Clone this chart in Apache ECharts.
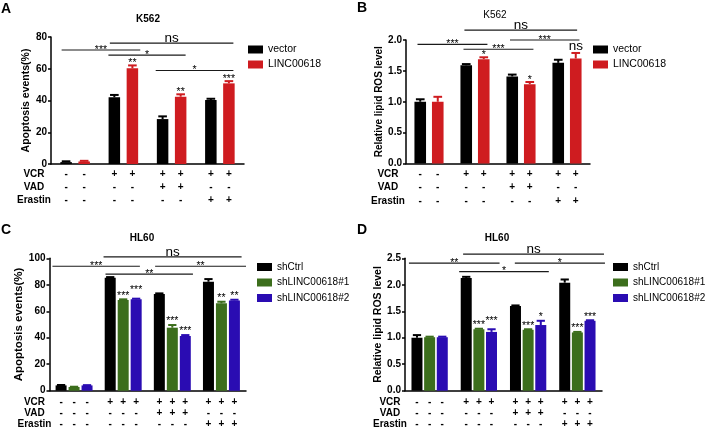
<!DOCTYPE html>
<html lang="en">
<head>
<meta charset="UTF-8">
<title>K562 / HL60</title>
<script src="https://cdn.jsdelivr.net/npm/echarts@6/dist/echarts.min.js"></script>
<style>
    html, body { margin: 0; padding: 0; background: #fff; }
    #chart { width: 710px; height: 430px; }
</style>
</head>
<body>
<div id="chart"></div>
<script>
// ---- data ----
var groups = ['g1', 'g2', 'g3', 'g4'];
var rowNames = ['VCR', 'VAD', 'Erastin'];
var vcrRow = ['-', '+', '+', '+'];
var vadRow = ['-', '-', '+', '-'];
var erastinRow = ['-', '-', '-', '+'];

// A - K562 apoptosis
var aVector = [1.2, 42, 28.3, 40.3];
var aVectorErr = [0.5, 1.5, 1.7, 0.8];
var aLinc = [1.6, 60.3, 42.4, 50.8];
var aLincErr = [0.4, 1.8, 1.5, 1.4];
var aLincStars = ['', '**', '**', '***'];
// brackets: start / end in group units, height, label
var aSigFrom = [0.72, -0.28, 0.69, 1.67];
var aSigTo = [3.28, 1.35, 2.29, 3.28];
var aSigY = [76.2, 71.8, 68.6, 58.9];
var aSigText = ['ns', '***', '*', '*'];

// B - K562 lipid ROS
var bVector = [1.0, 1.59, 1.41, 1.63];
var bVectorErr = [0.04, 0.02, 0.03, 0.05];
var bLinc = [1.0, 1.69, 1.285, 1.70];
var bLincErr = [0.08, 0.03, 0.035, 0.09];
var bLincStars = ['', '*', '*', 'ns'];
var bSigFrom = [0.77, -0.25, 0.75, 1.76];
var bSigTo = [3.22, 1.27, 2.27, 3.27];
var bSigY = [2.16, 1.93, 1.85, 2.0];
var bSigText = ['ns', '***', '***', '***'];

// C - HL60 apoptosis
var cCtrl = [4, 85.3, 73, 82.3];
var cCtrlErr = [0.3, 0.5, 0.5, 2.0];
var cSh1 = [2.8, 68.5, 47.6, 66];
var cSh1Err = [0.2, 0.5, 2.0, 1.2];
var cSh2 = [4, 69, 41.3, 68.2];
var cSh2Err = [0.2, 0.5, 0.7, 0.5];
var cSh1Stars = ['', '***', '***', '**'];
var cSh2Stars = ['', '***', '***', '**'];
var cSigFrom = [0.6, -0.44, 1.65, 0.64];
var cSigTo = [3.41, 1.34, 3.5, 2.42];
var cSigY = [101.1, 94, 94, 88.1];
var cSigText = ['ns', '***', '**', '**'];

// D - HL60 lipid ROS
var dCtrl = [1.0, 2.13, 1.60, 2.04];
var dCtrlErr = [0.05, 0.02, 0.01, 0.06];
var dSh1 = [1.01, 1.16, 1.15, 1.10];
var dSh1Err = [0.01, 0.01, 0.01, 0.01];
var dSh2 = [1.01, 1.11, 1.24, 1.32];
var dSh2Err = [0.01, 0.05, 0.08, 0.01];
var dSh1Stars = ['', '***', '***', '***'];
var dSh2Stars = ['', '***', '*', '***'];
var dSigFrom = [0.68, -0.42, 1.73, 0.6];
var dSigTo = [3.54, 1.42, 3.56, 2.42];
var dSigY = [2.58, 2.41, 2.41, 2.25];
var dSigText = ['ns', '**', '*', '*'];

var FONT = '"Liberation Sans", Arial, sans-serif';
var BLACK = '#000000', RED = '#cf1c20', GREEN = '#3c6e1c', BLUE = '#2a0cb2';

var option = {
    animation: false,
    textStyle: {fontFamily: FONT},
    grid: [], xAxis: [], yAxis: [], series: [], legend: [], graphic: []
};

function addPanel(p) {
    var i = option.grid.length;
    var n = p.series.length;
    var gap = parseFloat(p.barGap) / 100;
    var step = p.barW * (1 + gap);
    var rows = [vcrRow, vadRow, erastinRow];

    option.grid.push({left: p.left, top: p.top, width: p.width, height: p.height});
    option.xAxis.push({
        type: 'category', gridIndex: i, data: groups,
        axisLine: {lineStyle: {color: '#000', width: 1.5}},
        axisTick: {alignWithLabel: true, length: 3, lineStyle: {color: '#000', width: 1.5}},
        axisLabel: {show: false}
    });
    option.yAxis.push({
        type: 'value', gridIndex: i, min: 0, max: p.max, interval: p.interval,
        name: p.yName, nameLocation: 'middle', nameGap: p.nameGap,
        nameTextStyle: {fontWeight: 'bold', fontSize: p.nameSize, color: '#000', fontFamily: FONT},
        axisLine: {show: true, lineStyle: {color: '#000', width: 1.5}},
        axisTick: {show: true, length: 3, lineStyle: {color: '#000', width: 1.5}},
        axisLabel: {
            color: '#000', fontWeight: 'bold', fontSize: 10, margin: 4, fontFamily: FONT,
            formatter: function (v) { return p.decimals ? v.toFixed(p.decimals) : v; }
        },
        splitLine: {show: false}
    });

    // bars
    p.series.forEach(function (s) {
        option.series.push({
            type: 'bar', name: s.name, xAxisIndex: i, yAxisIndex: i,
            data: s.values, barWidth: p.barW, barGap: p.barGap,
            itemStyle: {color: s.color}
        });
    });

    // error bars + stars over each bar
    p.series.forEach(function (s, k) {
        var off = (k - (n - 1) / 2) * step;
        var lift = (p.lift && p.lift[k]) || [0, 0, 0, 0];
        option.series.push({
            type: 'custom', xAxisIndex: i, yAxisIndex: i, silent: true, z: 3,
            data: s.values.map(function (v, j) { return [j, v, s.err[j]]; }),
            renderItem: function (params, api) {
                var base = api.coord([api.value(0), api.value(1)]);
                var top = api.coord([api.value(0), api.value(1) + api.value(2)]);
                var x = base[0] + off;
                var cap = p.barW * 0.75;
                var kids = [
                    {type: 'line', shape: {x1: x, y1: base[1], x2: x, y2: top[1]},
                        style: {stroke: s.color, lineWidth: 2}},
                    {type: 'line', shape: {x1: x - cap / 2, y1: top[1], x2: x + cap / 2, y2: top[1]},
                        style: {stroke: s.color, lineWidth: 2}}
                ];
                var lab = s.stars ? s.stars[params.dataIndex] : '';
                if (lab) {
                    var isNs = lab === 'ns';
                    kids.push({
                        type: 'text', x: x, y: top[1] - (isNs ? 7 : p.starUp) - lift[params.dataIndex],
                        style: {
                            text: lab, fill: '#000', align: 'center', verticalAlign: 'middle',
                            font: (isNs ? '13.5px ' : '10.5px ') + FONT
                        }
                    });
                }
                return {type: 'group', children: kids};
            }
        });
    });

    // significance brackets
    option.series.push({
        type: 'custom', xAxisIndex: i, yAxisIndex: i, silent: true, z: 4,
        data: p.sigY.map(function (y) { return [0, y]; }),
        renderItem: function (params, api) {
            var k = params.dataIndex;
            var c0 = api.coord([0, api.value(1)]);
            var band = api.size([1, 0])[0];
            var x1 = c0[0] + p.sigFrom[k] * band;
            var x2 = c0[0] + p.sigTo[k] * band;
            var y = c0[1];
            var lab = p.sigText[k];
            var isNs = lab === 'ns';
            return {type: 'group', children: [
                {type: 'line', shape: {x1: x1, y1: y, x2: x2, y2: y},
                    style: {stroke: '#1a1a1a', lineWidth: 1.2}},
                {type: 'text', x: (x1 + x2) / 2, y: y - (isNs ? 5 : 0),
                    style: {text: lab, fill: '#000', align: 'center', verticalAlign: 'middle',
                        font: (isNs ? '13.5px ' : '10.5px ') + FONT}}
            ]};
        }
    });

    // treatment table under the axis
    option.series.push({
        type: 'custom', xAxisIndex: i, yAxisIndex: i, silent: true,
        data: groups.map(function (g, j) { return [j, 0]; }),
        renderItem: function (params, api) {
            var j = params.dataIndex;
            var c = api.coord([j, 0]);
            var band = api.size([1, 0])[0];
            var kids = [];
            rows.forEach(function (row, r) {
                for (var k = 0; k < n; k++) {
                    kids.push({type: 'text', x: c[0] + (k - (n - 1) / 2) * step, y: c[1] + p.rowY[r],
                        style: {text: row[j], fill: '#000', align: 'center', verticalAlign: 'middle',
                            font: 'bold 10px ' + FONT}});
                }
                if (j === 0) {
                    kids.push({type: 'text', x: c[0] - band / 2 - p.labelDx, y: c[1] + p.rowY[r],
                        style: {text: rowNames[r], fill: '#000', align: 'center', verticalAlign: 'middle',
                            font: 'bold 10px ' + FONT}});
                }
            });
            return {type: 'group', children: kids};
        }
    });

    option.legend.push({
        orient: 'vertical', left: p.legendLeft, top: p.legendTop, icon: 'rect',
        itemWidth: 15, itemHeight: 8, itemGap: p.legendGap, selectedMode: false,
        data: p.series.map(function (s) { return s.name; }),
        textStyle: {color: '#000', fontSize: p.legendSize, fontFamily: FONT}
    });

    option.graphic.push(
        {type: 'text', x: p.letterX, y: p.letterY,
            style: {text: p.letter, fill: '#000', font: 'bold 14px ' + FONT, verticalAlign: 'middle'}},
        {type: 'text', x: p.titleX, y: p.titleY,
            style: {text: p.title, fill: '#000', align: 'center', verticalAlign: 'middle',
                font: (p.titleBold ? 'bold ' : '') + '10px ' + FONT}}
    );
}

addPanel({
    letter: 'A', letterX: 1, letterY: 9, title: 'K562', titleX: 148, titleY: 19, titleBold: true,
    left: 51, top: 37, width: 193, height: 127, max: 80, interval: 20, decimals: 0,
    yName: 'Apoptosis events(%)', nameGap: 16, nameSize: 10.5,
    barW: 11.5, barGap: '57%', rowY: [10, 23.3, 36.7], labelDx: 17, starUp: 2,
    legendLeft: 243, legendTop: 39, legendGap: 4, legendSize: 10.5,
    sigFrom: aSigFrom, sigTo: aSigTo, sigY: aSigY, sigText: aSigText,
    series: [
        {name: 'vector', values: aVector, err: aVectorErr, color: BLACK},
        {name: 'LINC00618', values: aLinc, err: aLincErr, color: RED, stars: aLincStars}
    ]
});

addPanel({
    letter: 'B', letterX: 357, letterY: 8, title: 'K562', titleX: 495, titleY: 15, titleBold: false,
    left: 406, top: 40, width: 184, height: 123.5, max: 2, interval: 0.5, decimals: 1,
    yName: 'Relative lipid ROS level', nameGap: 20, nameSize: 10,
    barW: 11.6, barGap: '51%', rowY: [10.5, 24, 37.5], labelDx: 18, starUp: 2,
    legendLeft: 588, legendTop: 39, legendGap: 4, legendSize: 10.5,
    sigFrom: bSigFrom, sigTo: bSigTo, sigY: bSigY, sigText: bSigText,
    series: [
        {name: 'vector', values: bVector, err: bVectorErr, color: BLACK},
        {name: 'LINC00618', values: bLinc, err: bLincErr, color: RED, stars: bLincStars}
    ]
});

addPanel({
    letter: 'C', letterX: 1, letterY: 230.5, title: 'HL60', titleX: 142, titleY: 238, titleBold: true,
    left: 49.5, top: 258.3, width: 196.5, height: 132.4, max: 100, interval: 20, decimals: 0,
    yName: 'Apoptosis events(%)', nameGap: 24, nameSize: 11.5,
    barW: 11, barGap: '18%', rowY: [11.5, 23, 34], labelDx: 15, starUp: 3.5,
    lift: [null, [0, 0, 0, 0], [0, 5, 0, 0]],
    legendLeft: 252, legendTop: 257, legendGap: 5.5, legendSize: 10,
    sigFrom: cSigFrom, sigTo: cSigTo, sigY: cSigY, sigText: cSigText,
    series: [
        {name: 'shCtrl', values: cCtrl, err: cCtrlErr, color: BLACK},
        {name: 'shLINC00618#1', values: cSh1, err: cSh1Err, color: GREEN, stars: cSh1Stars},
        {name: 'shLINC00618#2', values: cSh2, err: cSh2Err, color: BLUE, stars: cSh2Stars}
    ]
});

addPanel({
    letter: 'D', letterX: 357, letterY: 230.5, title: 'HL60', titleX: 497, titleY: 238, titleBold: true,
    left: 405, top: 258.3, width: 197, height: 132.4, max: 2.5, interval: 0.5, decimals: 1,
    yName: 'Relative lipid ROS level', nameGap: 13, nameSize: 10.5,
    barW: 11, barGap: '15%', rowY: [12, 22.5, 34], labelDx: 15, starUp: 3.5,
    lift: [null, [0, 0, 0, 0], [0, 5, 0, 0]],
    legendLeft: 608, legendTop: 257, legendGap: 5.5, legendSize: 10,
    sigFrom: dSigFrom, sigTo: dSigTo, sigY: dSigY, sigText: dSigText,
    series: [
        {name: 'shCtrl', values: dCtrl, err: dCtrlErr, color: BLACK},
        {name: 'shLINC00618#1', values: dSh1, err: dSh1Err, color: GREEN, stars: dSh1Stars},
        {name: 'shLINC00618#2', values: dSh2, err: dSh2Err, color: BLUE, stars: dSh2Stars}
    ]
});

var myChart = echarts.init(document.getElementById('chart'));
myChart.setOption(option);
</script>
</body>
</html>
